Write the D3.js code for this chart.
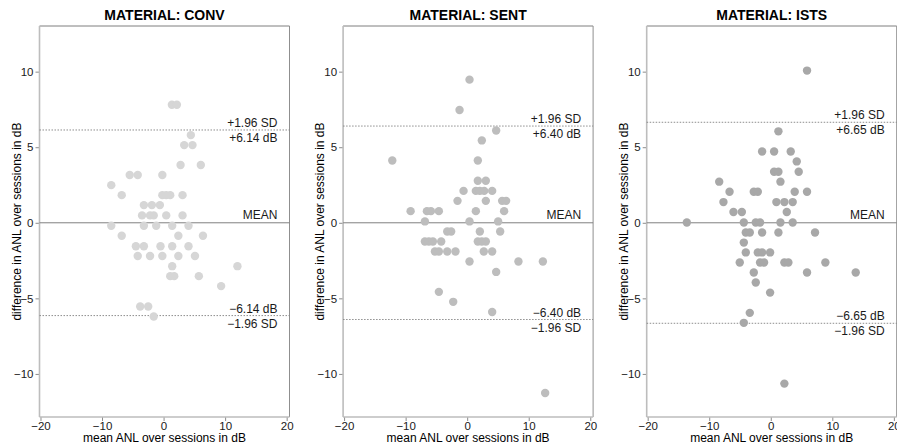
<!DOCTYPE html>
<html>
<head>
<meta charset="utf-8">
<script src="https://cdn.jsdelivr.net/npm/d3@7"></script>
<style>
  body { margin: 0; background: #fff; }
  svg { display: block; font-family: "Liberation Sans", Arial, Helvetica, sans-serif; }
</style>
</head>
<body>
<div id="chart"></div>
<script>
// one entry per panel
const materials = ["CONV", "SENT", "ISTS"];
const sdLimits = [6.14, 6.40, 6.65];
const pointColors = ["#d6d6d6", "#bdbdbd", "#a8a8a8"];

const xTicks = [-20, -10, 0, 10, 20];
const yTicks = [-10, -5, 0, 5, 10];

// [mean ANL over sessions, difference over sessions]
const convPoints = [
  [1.35, 7.81], [2.16, 7.81], [4.43, 5.8], [3.35, 5.14], [4.7, 5.14],
  [2.76, 3.82], [6.05, 3.82], [-5.5, 3.16], [-4.2, 3.16], [-0.2, 3.16],
  [-8.5, 2.49], [-6.8, 1.83], [-0.2, 1.83], [0.43, 1.83], [1.08, 1.83], [3.08, 1.83],
  [-3.2, 1.17], [-1.9, 1.17], [-0.6, 1.17],
  [-3.5, 0.49], [-2.2, 0.49], [-1.6, 0.49], [0.43, 0.49], [3.08, 0.49],
  [-8.5, -0.2], [-3.2, -0.2], [-1.2, -0.2], [1.4, -0.2], [4.05, -0.2],
  [-6.8, -0.86], [2.4, -0.86], [6.4, -0.86],
  [-4.5, -1.55], [-3.2, -1.55], [-0.5, -1.55], [1.4, -1.55], [4.05, -1.55],
  [-4.2, -2.2], [-2.2, -2.2], [-0.2, -2.2], [2.4, -2.2], [5.1, -2.2],
  [1.4, -2.87], [12.0, -2.87], [1.08, -3.53], [1.73, -3.53], [5.73, -3.53],
  [9.35, -4.19], [-3.8, -5.54], [-2.5, -5.54], [-1.6, -6.2]
];

const sentPoints = [
  [0.38, 9.47], [-1.24, 7.46], [4.71, 6.11], [2.38, 5.45],
  [-12.17, 4.12], [1.73, 4.12], [1.73, 2.78], [3.03, 2.78],
  [-0.59, 2.11], [1.41, 2.11], [2.06, 2.11], [2.76, 2.11], [4.06, 2.11],
  [-1.57, 1.45], [3.03, 1.45], [5.68, 1.45], [6.33, 1.45],
  [-9.19, 0.77], [-6.54, 0.77], [-5.89, 0.77], [-4.6, 0.77], [1.41, 0.77], [6.0, 0.77],
  [-6.87, 0.09], [0.38, 0.09], [5.03, 0.09],
  [-3.24, -0.58], [-2.6, -0.58], [2.06, -0.58], [5.36, -0.58],
  [-6.87, -1.24], [-6.22, -1.24], [-5.57, -1.24], [-4.22, -1.24], [1.73, -1.24], [2.38, -1.24], [3.03, -1.24],
  [-5.24, -1.9], [-4.6, -1.9], [-3.24, -1.9], [-1.9, -1.9], [2.7, -1.9], [4.06, -1.9],
  [0.38, -2.56], [8.33, -2.56], [12.3, -2.56],
  [4.71, -3.25], [-4.6, -4.57], [-2.27, -5.23], [4.06, -5.9], [12.67, -11.26]
];

const istsPoints = [
  [5.89, 10.07], [1.24, 6.05], [-1.41, 4.72], [0.54, 4.72], [3.24, 4.72],
  [4.22, 4.06], [0.54, 3.38], [1.24, 3.38], [4.54, 3.38],
  [-8.38, 2.72], [1.57, 2.72],
  [-6.7, 2.05], [-2.76, 2.05], [-2.11, 2.05], [3.89, 2.05], [5.89, 2.05],
  [-7.69, 1.37], [0.91, 1.37], [2.21, 1.37], [3.56, 1.37],
  [-6.06, 0.71], [-4.7, 0.71], [2.6, 0.71],
  [-13.64, 0.02], [-4.38, 0.02], [-2.44, 0.02], [-1.74, 0.02], [1.57, 0.02], [3.56, 0.02],
  [-4.06, -0.64], [-3.41, -0.64], [-1.41, -0.64], [1.24, -0.64], [7.19, -0.64],
  [-4.38, -1.31],
  [-4.06, -1.96], [-2.11, -1.96], [-1.41, -1.96], [-0.11, -1.96],
  [-5.04, -2.63], [-1.74, -2.63], [-1.09, -2.63], [2.21, -2.63], [2.86, -2.63], [8.87, -2.63],
  [-2.76, -3.29], [5.89, -3.29], [13.8, -3.29],
  [-2.44, -3.95], [-0.11, -4.62], [-3.41, -5.96], [-4.38, -6.62], [2.21, -10.64]
];

const panelPoints = [convPoints, sentPoints, istsPoints];

const W = 897, H = 445;
const panelW = 250, panelH = 391, panelTop = 26, firstLeft = 39.5, step = 303.6;

const svg = d3.select("#chart").append("svg")
  .attr("width", W)
  .attr("height", H);

const x = d3.scaleLinear().domain([-20.16, 20.46]).range([0, panelW]);
const y = d3.scaleLinear().domain([13.02, -12.85]).range([0, panelH]);

const fmt = d => d < 0 ? "\u2212" + Math.abs(d) : d;

materials.forEach((mat, i) => {
  const g = svg.append("g")
    .attr("transform", `translate(${firstLeft + i * step},${panelTop})`);

  // title
  g.append("text")
    .attr("x", panelW / 2)
    .attr("y", -6)
    .attr("text-anchor", "middle")
    .style("font-size", "14px")
    .style("font-weight", "bold")
    .text(`MATERIAL: ${mat}`);

  // axes
  const xAxis = g.append("g")
    .attr("transform", `translate(0,${panelH})`)
    .call(d3.axisBottom(x).tickValues(xTicks).tickSize(4).tickSizeOuter(0).tickFormat(fmt));
  const yAxis = g.append("g")
    .call(d3.axisLeft(y).tickValues(yTicks).tickSize(4).tickSizeOuter(0).tickFormat(fmt));

  [xAxis, yAxis].forEach(a => {
    a.select(".domain").remove();
    a.selectAll(".tick line").attr("stroke", "#8c8c8c");
    a.selectAll(".tick text")
      .attr("fill", "#1a1a1a")
      .style("font-size", "11.5px")
      .style("font-family", "'Liberation Sans', Arial, sans-serif");
  });
  xAxis.selectAll(".tick text").attr("dy", null).attr("y", 12.5);
  yAxis.selectAll(".tick text").attr("x", -6);

  // frame: light left/bottom, darker top/right
  g.append("line").attr("x1", 0).attr("x2", panelW).attr("y1", 0).attr("y2", 0)
    .attr("stroke", "#7f7f7f").attr("stroke-width", 1);
  g.append("line").attr("x1", panelW).attr("x2", panelW).attr("y1", 0).attr("y2", panelH)
    .attr("stroke", "#8f8f8f").attr("stroke-width", 1);
  g.append("line").attr("x1", 0).attr("x2", 0).attr("y1", 0).attr("y2", panelH)
    .attr("stroke", "#bdbdbd").attr("stroke-width", 1.6);
  g.append("line").attr("x1", 0).attr("x2", panelW).attr("y1", panelH).attr("y2", panelH)
    .attr("stroke", "#bdbdbd").attr("stroke-width", 1.6);

  // axis titles
  g.append("text")
    .attr("x", panelW / 2)
    .attr("y", panelH + 25)
    .attr("text-anchor", "middle")
    .style("font-size", "12px")
    .text("mean ANL over sessions in dB");

  g.append("text")
    .attr("transform", `translate(-19,${panelH / 2}) rotate(-90)`)
    .attr("text-anchor", "middle")
    .style("font-size", "12px")
    .text("difference in ANL over sessions in dB");

  // mean and limits of agreement
  const sd = sdLimits[i];
  g.append("line")
    .attr("x1", 0).attr("x2", panelW)
    .attr("y1", y(0)).attr("y2", y(0))
    .attr("stroke", "#808080").attr("stroke-width", 1);
  [sd, -sd].forEach(v => {
    g.append("line")
      .attr("x1", 0).attr("x2", panelW)
      .attr("y1", y(v)).attr("y2", y(v))
      .attr("stroke", "#808080").attr("stroke-width", 0.9)
      .attr("stroke-dasharray", "1.5,1.5");
  });

  // points
  g.selectAll("circle")
    .data(panelPoints[i])
    .join("circle")
    .attr("cx", d => x(d[0]))
    .attr("cy", d => y(d[1]))
    .attr("r", 4.2)
    .attr("fill", pointColors[i]);

  // annotations
  const lx = panelW - 12;
  const ann = [
    { t: "+1.96 SD", yy: y(sd) - 3 },
    { t: `+${sd.toFixed(2)} dB`, yy: y(sd) + 12 },
    { t: "MEAN", yy: y(0) - 4 },
    { t: `\u2212${sd.toFixed(2)} dB`, yy: y(-sd) - 3 },
    { t: "\u22121.96 SD", yy: y(-sd) + 12 }
  ];
  g.selectAll(".ann")
    .data(ann)
    .join("text")
    .attr("class", "ann")
    .attr("x", lx)
    .attr("y", d => d.yy)
    .attr("text-anchor", "end")
    .style("font-size", "12px")
    .attr("fill", "#1a1a1a")
    .text(d => d.t);
});
</script>
</body>
</html>
